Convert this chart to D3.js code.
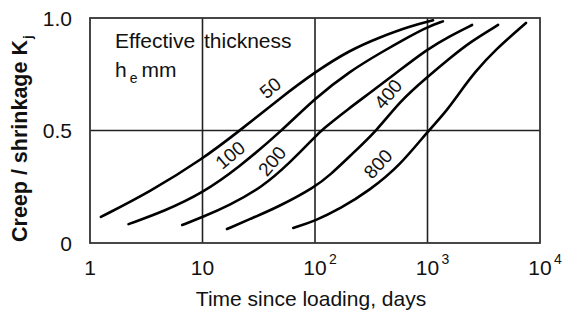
<!DOCTYPE html>
<html>
<head>
<meta charset="utf-8">
<script src="https://cdnjs.cloudflare.com/ajax/libs/d3/7.8.5/d3.min.js"></script>
<style>
    body { margin: 0; background: #fff; }
    svg { display: block; }
    text { font-family: "Liberation Sans", Arial, sans-serif; fill: #111; }
</style>
</head>
<body>
<div id="vis"></div>
<script>
/* Creep / shrinkage coefficient against time since loading, one curve per effective thickness */

// Effective thickness of each curve, mm
var thickness = [50, 100, 200, 400, 800];

// Days and K values
var days50 = [1.25, 3.4, 10, 21.5, 49, 100, 205, 378, 700, 1120];
var k50 = [0.116, 0.227, 0.373, 0.50, 0.644, 0.76, 0.858, 0.915, 0.964, 0.99];

var days100 = [2.2, 4.6, 10, 20.7, 51, 100, 205, 378, 700, 1000, 1370];
var k100 = [0.084, 0.142, 0.222, 0.333, 0.50, 0.644, 0.764, 0.844, 0.92, 0.96, 0.985];

var days200 = [6.6, 10, 17, 34, 60, 100, 113, 205, 308, 570, 1000, 1585, 2490];
var k200 = [0.08, 0.115, 0.165, 0.248, 0.358, 0.471, 0.50, 0.602, 0.667, 0.769, 0.862, 0.92, 0.969];

var days400 = [16.5, 26, 47, 100, 136, 205, 356, 570, 1000, 1585, 2390, 4240];
var k400 = [0.062, 0.105, 0.16, 0.249, 0.302, 0.387, 0.50, 0.631, 0.738, 0.822, 0.893, 0.969];

var days800 = [64, 100, 167, 308, 570, 1000, 1430, 1945, 2640, 3980, 7500];
var k800 = [0.067, 0.098, 0.152, 0.235, 0.345, 0.495, 0.578, 0.671, 0.76, 0.858, 0.978];

// Label positions (days, K) and rotation for each curve label
var labelDays = [40, 17.6, 41.5, 446, 363];
var labelK = [0.689, 0.391, 0.364, 0.662, 0.352];
var labelAngle = [-40, -40, -50, -50, -47];

// Axis ticks
var xTicks = [1, 10, 100, 1000, 10000];
var xTickExp = ['', '', '2', '3', '4'];
var yTicks = [0, 0.5, 1];
var yTickText = ['0', '0.5', '1.0'];

// Margins of the plot box
var margin = { left: 90, top: 18, right: 25, bottom: 69 };
var width = 565 - margin.left - margin.right;
var height = 312 - margin.top - margin.bottom;

var svg = d3.select('#vis')
    .append('svg')
    .attr('width', 565)
    .attr('height', 312);

var g = svg.append('g')
    .attr('transform', 'translate(' + margin.left + ',' + margin.top + ')');

// Scales
var xScale = d3.scaleLog().domain([1, 10000]).range([0, width]);
var yScale = d3.scaleLinear().domain([0, 1]).range([height, 0]);

// Grid lines at inner decades and at K = 0.5
g.selectAll('.vgrid')
    .data([10, 100, 1000])
    .enter().append('line')
    .attr('x1', function(d) { return xScale(d); })
    .attr('x2', function(d) { return xScale(d); })
    .attr('y1', 0)
    .attr('y2', height)
    .attr('stroke', '#222')
    .attr('stroke-width', 1.6);

g.append('line')
    .attr('x1', 0)
    .attr('x2', width)
    .attr('y1', yScale(0.5))
    .attr('y2', yScale(0.5))
    .attr('stroke', '#222')
    .attr('stroke-width', 1.6);

// Plot box
g.append('rect')
    .attr('width', width)
    .attr('height', height)
    .attr('fill', 'none')
    .attr('stroke', '#333')
    .attr('stroke-width', 1.8);

// Curves
var series = [
    { days: days50, k: k50 },
    { days: days100, k: k100 },
    { days: days200, k: k200 },
    { days: days400, k: k400 },
    { days: days800, k: k800 }
];

var line = d3.line()
    .x(function(d) { return xScale(d[0]); })
    .y(function(d) { return yScale(d[1]); })
    .curve(d3.curveBasis);

g.selectAll('.curve')
    .data(series)
    .enter().append('path')
    .attr('class', 'curve')
    .attr('d', function(s) {
        return line(s.days.map(function(t, i) { return [t, s.k[i]]; }));
    })
    .attr('fill', 'none')
    .attr('stroke', '#000')
    .attr('stroke-width', 2.6)
    .attr('stroke-linecap', 'round');

// Curve labels
g.selectAll('.clabel')
    .data(thickness)
    .enter().append('text')
    .attr('transform', function(d, i) {
        return 'translate(' + xScale(labelDays[i]) + ',' + yScale(labelK[i]) + ') rotate(' + labelAngle[i] + ')';
    })
    .attr('text-anchor', 'middle')
    .attr('dy', '0.35em')
    .style('font-size', '19px')
    .text(function(d) { return d; });

// Legend title inside the box
svg.append('text')
    .attr('x', 115)
    .attr('y', 48)
    .style('font-size', '21px')
    .attr('word-spacing', '3px')
    .text('Effective thickness');

var he = svg.append('text')
    .attr('x', 115)
    .attr('y', 77)
    .style('font-size', '21px');
he.append('tspan').text('h');
he.append('tspan').attr('dx', 3).attr('dy', 6).style('font-size', '14px').text('e');
he.append('tspan').attr('dx', 4).attr('dy', -6).text('mm');

// Y tick labels
svg.selectAll('.ytick')
    .data(yTicks)
    .enter().append('text')
    .attr('x', 72)
    .attr('y', function(d) { return margin.top + yScale(d); })
    .attr('dy', '0.36em')
    .attr('text-anchor', 'end')
    .style('font-size', '21px')
    .text(function(d, i) { return yTickText[i]; });

// X tick labels, powers of ten written with a raised exponent
svg.selectAll('.xtick')
    .data(xTicks)
    .enter().append('text')
    .attr('x', function(d) { return margin.left + xScale(d); })
    .attr('y', 275)
    .attr('text-anchor', 'middle')
    .style('font-size', '21px')
    .text(function(d, i) { return xTickExp[i] ? '10' : String(d); });

svg.selectAll('.xexp')
    .data(xTicks.filter(function(d, i) { return xTickExp[i]; }))
    .enter().append('text')
    .attr('x', function(d) { return margin.left + xScale(d) + 14; })
    .attr('y', 264)
    .style('font-size', '14px')
    .text(function(d) { return xTickExp[xTicks.indexOf(d)]; });

// Axis titles
svg.append('text')
    .attr('x', 311)
    .attr('y', 306)
    .attr('text-anchor', 'middle')
    .style('font-size', '21px')
    .text('Time since loading, days');

var yTitle = svg.append('text')
    .attr('transform', 'translate(27,242) rotate(-90)')
    .style('font-size', '21.5px')
    .style('font-weight', 'bold');
yTitle.append('tspan').text('Creep / shrinkage K');
yTitle.append('tspan').attr('dx', 1).attr('dy', 5).style('font-size', '13px').text('j');
</script>
</body>
</html>
